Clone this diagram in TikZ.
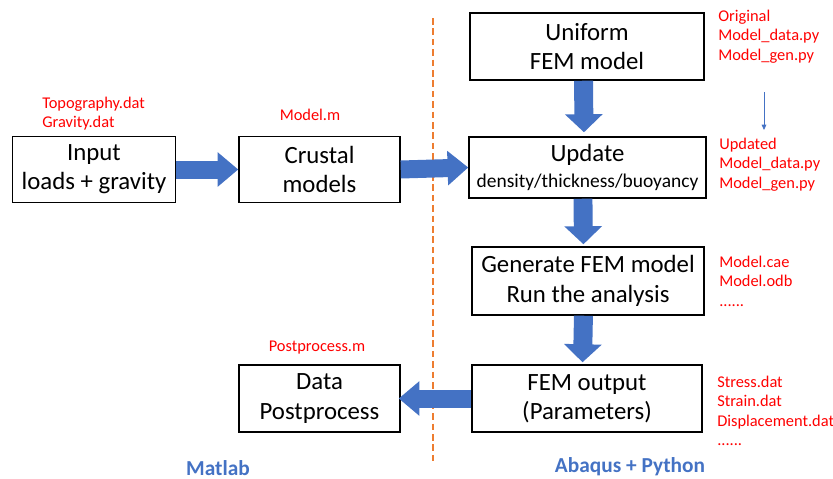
\documentclass[tikz,border=0pt]{standalone}
\usepackage{fontspec}
\setmainfont{Carlito}
\usetikzlibrary{arrows.meta}
\definecolor{officeblue}{HTML}{4472C4}
\definecolor{officeorange}{HTML}{ED7D31}
\definecolor{filered}{HTML}{FF0000}
\tikzset{
  box/.style={draw=black, line width=1.1pt, fill=white, align=center, inner sep=0pt,
    font=\fontsize{18.6}{22}\selectfont},
  blockarrow/.style={draw=officeblue, line width=13.5pt,
    -{Triangle[width=25pt,length=15.5pt]}},
  downarrow/.style={draw=officeblue, line width=14.2pt,
    -{Triangle[width=27.5pt,length=13.5pt]}},
  redlabel/.style={text=filered, align=left, inner sep=0pt,
    font=\fontsize{12.3}{14.6}\selectfont},
  toollabel/.style={text=officeblue, inner sep=0pt, font=\bfseries\fontsize{16}{18}\selectfont},
}
\begin{document}
\begin{tikzpicture}[x=0.75pt, y=-0.75pt]
                    \useasboundingbox (0,0) rectangle (833,479);

                    % Separating Matlab and Abaqus
                    \draw [officeorange, line width=1.4pt, dash pattern=on 5pt off 2.8pt] (433,18) -- (433,462);%

                    % Matlab boxes
                    \node [box, minimum width=122.25pt, minimum height=49.5pt] (input) at (94,169.5) {Input\\loads + gravity};%
                    \node [box, minimum width=120.75pt, minimum height=49.5pt] (crustal) at (319.5,169.5) {Crustal\\models};%
                    \node [box, minimum width=120.75pt, minimum height=50.25pt] (post) at (319.5,398.5) {Data\\Postprocess};%

                    % Abaqus boxes
                    \node [box, minimum width=175.5pt, minimum height=50.25pt] (uniform) at (587,46.5) {Uniform\\FEM model};%
                    \node [box, minimum width=177.75pt, minimum height=45.75pt] (update) at (587.5,167.5) {Update\\[-3pt]{\fontsize{14.6}{17}\selectfont density/thickness/buoyancy}};%
                    \node [box, minimum width=174pt, minimum height=51pt] (generate) at (588,281) {Generate FEM model\\Run the analysis};%
                    \node [box, minimum width=172.5pt, minimum height=50.25pt] (output) at (587,398.5) {FEM output\\(Parameters)};%

                    % Block arrows
                    \draw [blockarrow] (input.east) -- (crustal.west);%
                    \draw [blockarrow] (crustal.east) -- (update.west);%
                    \draw [blockarrow] (output.west) -- ([xshift=-1.5pt]post.east);%
                    \draw [downarrow, shorten >=3pt] ([xshift=-2.6pt]uniform.south) -- ([xshift=-2.6pt]update.north);%
                    \draw [downarrow, shorten >=1.5pt] ([xshift=-3.4pt]update.south) -- ([xshift=-3.4pt]generate.north);%
                    \draw [downarrow, shorten >=1.5pt] ([xshift=-3.4pt]generate.south) -- ([xshift=-3.4pt]output.north);%

                    % File names
                    \node [redlabel, anchor=west] (topo) at (42,113.5) {Topography.dat\\Gravity.dat};%
                    \node [redlabel] (modelm) at (310,115) {Model.m};%
                    \node [redlabel] (postm) at (317,348) {Postprocess.m};%
                    \node [redlabel, anchor=west] (original) at (718,36.5) {Original\\Model\_data.py\\Model\_gen.py};%
                    \node [redlabel, anchor=west] (updated) at (719,164.5) {Updated\\Model\_data.py\\Model\_gen.py};%
                    \node [redlabel, anchor=west] (cae) at (719,281) {Model.cae\\Model.odb\\......};%
                    \node [redlabel, anchor=west] (stress) at (717,411) {Stress.dat\\Strain.dat\\Displacement.dat\\......};%

                    % Original -> Updated
                    \coordinate (vfrom) at (764,92);%
                    \coordinate (vto) at (764,130);%
                    \draw [officeblue, line width=0.6pt, -{Triangle[width=3.5pt,length=4pt]}] (vfrom) -- (vto);%

                    % Tools
                    \node [toollabel] (matlab) at (218,468) {Matlab};%
                    \node [toollabel] (abaqus) at (630,467) {Abaqus + Python};%
\end{tikzpicture}
\end{document}
